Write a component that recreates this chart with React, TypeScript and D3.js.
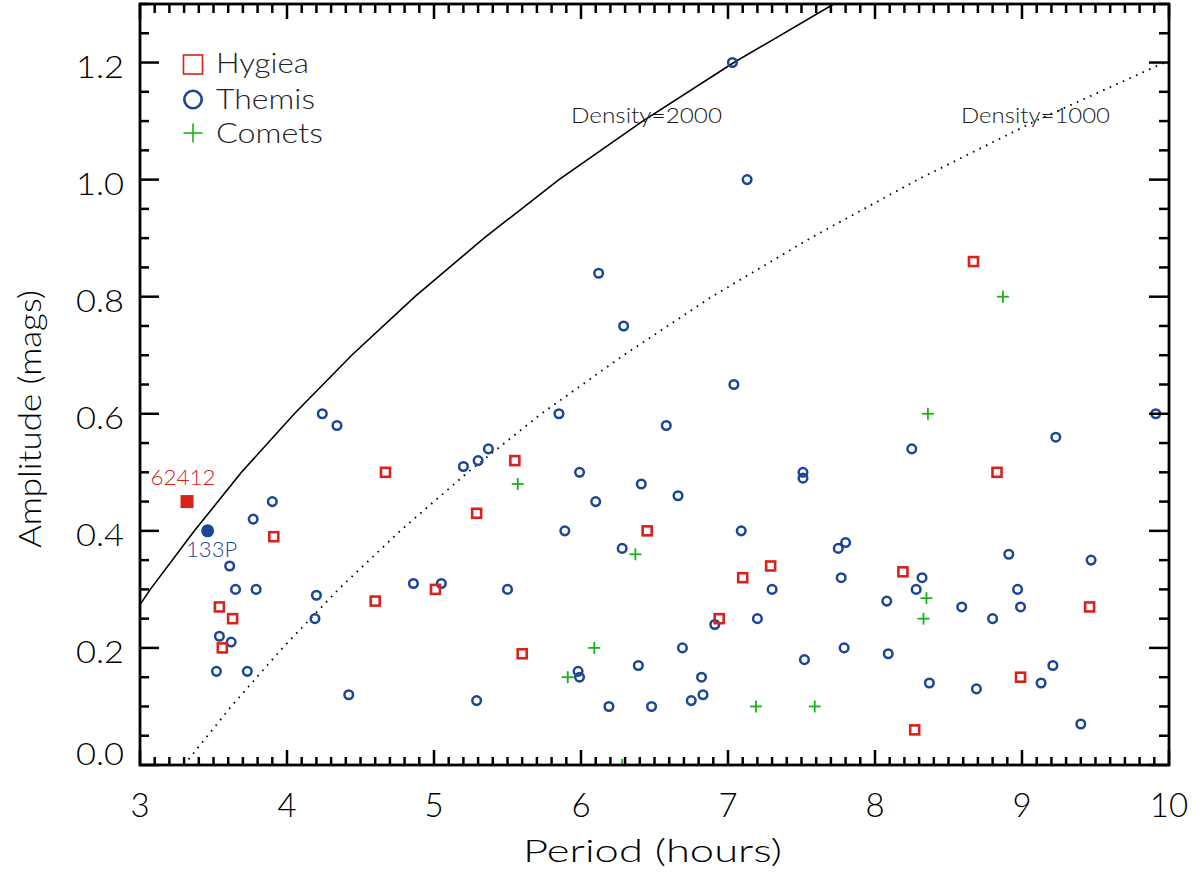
import React from "react";
import * as d3 from "d3";

// ---- Data (Period in hours, Amplitude in mags) ----
const hygiea: [number, number][] = [
  [4.67, 0.5], [5.55, 0.52], [5.29, 0.43], [3.91, 0.39], [3.54, 0.27],
  [3.63, 0.25], [3.56, 0.2], [4.6, 0.28], [5.01, 0.3], [5.6, 0.19],
  [6.45, 0.4], [6.94, 0.25], [7.1, 0.32], [7.29, 0.34], [8.19, 0.33],
  [8.67, 0.86], [8.83, 0.5], [8.27, 0.06], [8.99, 0.15], [9.46, 0.27],
];

const themis: [number, number][] = [
  [4.24, 0.6], [4.34, 0.58], [3.9, 0.45], [3.77, 0.42], [3.61, 0.34],
  [3.65, 0.3], [3.79, 0.3], [4.2, 0.29], [4.19, 0.25], [3.54, 0.22],
  [3.62, 0.21], [3.52, 0.16], [3.73, 0.16], [4.42, 0.12], [4.86, 0.31],
  [5.05, 0.31], [5.5, 0.3], [5.29, 0.11], [5.98, 0.16], [5.99, 0.15],
  [6.19, 0.1], [6.48, 0.1], [6.39, 0.17], [6.69, 0.2], [6.82, 0.15],
  [6.75, 0.11], [6.83, 0.12], [6.91, 0.24], [7.2, 0.25], [7.3, 0.3],
  [7.52, 0.18], [7.77, 0.32], [7.79, 0.2], [8.08, 0.28], [8.09, 0.19],
  [8.28, 0.3], [8.32, 0.32], [8.37, 0.14], [8.59, 0.27], [8.8, 0.25],
  [8.69, 0.13], [8.97, 0.3], [8.99, 0.27], [9.13, 0.14], [9.21, 0.17],
  [9.4, 0.07], [6.29, 0.75], [7.04, 0.65], [5.85, 0.6], [6.58, 0.58],
  [5.37, 0.54], [5.3, 0.52], [5.2, 0.51], [5.99, 0.5], [6.41, 0.48],
  [6.66, 0.46], [6.1, 0.45], [5.89, 0.4], [7.09, 0.4], [6.28, 0.37],
  [7.51, 0.5], [7.51, 0.49], [8.25, 0.54], [9.23, 0.56], [9.91, 0.6],
  [7.8, 0.38], [7.75, 0.37], [8.91, 0.36], [9.47, 0.35], [7.03, 1.2],
  [7.13, 1.0], [6.12, 0.84],
];

const comets: [number, number][] = [
  [5.57, 0.48], [6.37, 0.36], [6.09, 0.2], [5.91, 0.15], [7.19, 0.1],
  [6.28, 0.0], [7.59, 0.1], [8.35, 0.285], [8.33, 0.25], [8.87, 0.8],
  [8.36, 0.6],
];

const special62412: [number, number] = [3.32, 0.45];
const special133P: [number, number] = [3.46, 0.4];

// Spin-barrier curves: amplitude steps and periods
const curveAmp = [0, 0.1, 0.2, 0.3, 0.4, 0.5, 0.6, 0.7, 0.8, 0.9, 1.0, 1.1, 1.2, 1.3];
const density2000P = [2.33, 2.56, 2.8, 3.07, 3.37, 3.69, 4.05, 4.44, 4.87, 5.34, 5.85, 6.42, 7.04, 7.72];
const density1000P = [3.3, 3.62, 3.97, 4.35, 4.77, 5.23, 5.73, 6.29, 6.89, 7.56, 8.29, 9.09, 9.97, 10.93];

const xTicks = [3, 4, 5, 6, 7, 8, 9, 10];
const yTicks = [0, 0.2, 0.4, 0.6, 0.8, 1.0, 1.2];

const RED = "#d8221c";
const BLUE = "#1b4596";
const GREEN = "#16b416";
const FONT = "Lato, 'DejaVu Sans', sans-serif";
const FW = 300;

export default function App() {
  const W = 1203, H = 875;
  const L = 140, R = 1169, T = 4, B = 765;
  const x = d3.scaleLinear().domain([3, 10]).range([L, R]);
  const y = d3.scaleLinear().domain([0, 1.3]).range([B, T]);

  const line = d3.line<[number, number]>().x((d) => x(d[0])).y((d) => y(d[1]));
  const c2000 = line(curveAmp.map((a, i) => [density2000P[i], a] as [number, number])) || "";
  const c1000 = line(curveAmp.map((a, i) => [density1000P[i], a] as [number, number])) || "";

  const xMinor = d3.range(30, 101).map((v) => v / 10).filter((v) => Math.abs(v - Math.round(v)) > 1e-6);
  const yMinor = d3.range(0, 27).map((v) => v * 0.05).filter((v) => Math.abs(v * 5 - Math.round(v * 5)) > 1e-6);

  const tickStroke = { stroke: "#000", strokeWidth: 2.5 };
  const txt = { fontFamily: FONT, fontWeight: FW };

  return (
    <svg width={W} height={H} style={{ position: "absolute", left: 0, top: 0, background: "#fff" }}>
      <defs>
        <clipPath id="plotclip">
          <rect x={L} y={T} width={R - L} height={B - T} />
        </clipPath>
      </defs>
      <rect x={0} y={0} width={W} height={H} fill="#fff" />

      {/* curves */}
      <g clipPath="url(#plotclip)">
        <path d={c2000} fill="none" stroke="#000" strokeWidth={1.6} />
        <path d={c1000} fill="none" stroke="#000" strokeWidth={1.8} strokeDasharray="1.6 5.6" />
      </g>

      {/* curve labels */}
      <text x={571} y={123} {...txt} fontSize={21} fill="#1a1a1a" textLength={151} lengthAdjust="spacingAndGlyphs">Density=2000</text>
      <text x={961} y={123} {...txt} fontSize={21} fill="#1a1a1a" textLength={149} lengthAdjust="spacingAndGlyphs">Density=1000</text>

      {/* data */}
      <g clipPath="url(#plotclip)">
        {comets.map((d, i) => (
          <g key={"c" + i} stroke={GREEN} strokeWidth={1.8}>
            <line x1={x(d[0]) - 6} x2={x(d[0]) + 6} y1={y(d[1])} y2={y(d[1])} />
            <line x1={x(d[0])} x2={x(d[0])} y1={y(d[1]) - 6} y2={y(d[1]) + 6} />
          </g>
        ))}
      </g>
      {themis.map((d, i) => (
        <circle key={"t" + i} cx={x(d[0])} cy={y(d[1])} r={4.3} fill="none" stroke={BLUE} strokeWidth={2.5} />
      ))}
      {hygiea.map((d, i) => (
        <rect key={"h" + i} x={x(d[0]) - 4.5} y={y(d[1]) - 4.5} width={9} height={9} fill="none" stroke={RED} strokeWidth={2.6} />
      ))}

      {/* special objects */}
      <rect x={x(special62412[0]) - 6.5} y={y(special62412[1]) - 6.5} width={13} height={13} fill={RED} />
      <text x={x(special62412[0]) - 4} y={485} {...txt} fontSize={21} fill={RED} textAnchor="middle" textLength={65} lengthAdjust="spacingAndGlyphs">62412</text>
      <circle cx={x(special133P[0])} cy={y(special133P[1])} r={6.5} fill={BLUE} />
      <text x={x(special133P[0]) + 4} y={557} {...txt} fontSize={21} fill={BLUE} textAnchor="middle" textLength={51} lengthAdjust="spacingAndGlyphs">133P</text>

      {/* frame */}
      <rect x={L} y={T} width={R - L} height={B - T} fill="none" stroke="#000" strokeWidth={2.8} />

      {/* x ticks */}
      {xTicks.map((t) => (
        <g key={"xt" + t}>
          <line x1={x(t)} x2={x(t)} y1={B} y2={B - 15} {...tickStroke} />
          <line x1={x(t)} x2={x(t)} y1={T} y2={T + 15} {...tickStroke} />
          <text x={x(t)} y={817} {...txt} fontSize={33} textAnchor="middle" fill="#000">{t}</text>
        </g>
      ))}
      {xMinor.map((t, i) => (
        <g key={"xm" + i}>
          <line x1={x(t)} x2={x(t)} y1={B} y2={B - 8} {...tickStroke} />
          <line x1={x(t)} x2={x(t)} y1={T} y2={T + 9} {...tickStroke} />
        </g>
      ))}

      {/* y ticks */}
      {yTicks.map((t) => (
        <g key={"yt" + t}>
          <line x1={L} x2={L + 19} y1={y(t)} y2={y(t)} {...tickStroke} />
          <line x1={R} x2={R - 20} y1={y(t)} y2={y(t)} {...tickStroke} />
          <text x={124} y={Math.min(y(t) + 15.5, B)} {...txt} fontSize={31} textAnchor="end" fill="#000" textLength={48} lengthAdjust="spacingAndGlyphs">{t.toFixed(1)}</text>
        </g>
      ))}
      {yMinor.map((t, i) => (
        <g key={"ym" + i}>
          <line x1={L} x2={L + 9} y1={y(t)} y2={y(t)} {...tickStroke} />
          <line x1={R} x2={R - 10} y1={y(t)} y2={y(t)} {...tickStroke} />
        </g>
      ))}

      {/* axis titles */}
      <text x={523} y={862} {...txt} fontSize={32} fill="#000" textLength={259} lengthAdjust="spacingAndGlyphs">Period (hours)</text>
      <text transform="translate(41,548) rotate(-90)" x={0} y={0} {...txt} fontSize={32} fill="#000" textLength={258} lengthAdjust="spacingAndGlyphs">Amplitude (mags)</text>

      {/* legend */}
      <rect x={183.5} y={55} width={19} height={19} fill="none" stroke={RED} strokeWidth={1.6} />
      <text x={216} y={73} {...txt} fontSize={27} fill="#222" textLength={93} lengthAdjust="spacingAndGlyphs">Hygiea</text>
      <circle cx={193} cy={99.5} r={8.7} fill="none" stroke={BLUE} strokeWidth={2.6} />
      <text x={216} y={109} {...txt} fontSize={27} fill="#222" textLength={99} lengthAdjust="spacingAndGlyphs">Themis</text>
      <g stroke={GREEN} strokeWidth={1.6}>
        <line x1={183.5} x2={202.5} y1={133} y2={133} />
        <line x1={193} x2={193} y1={123.5} y2={142.5} />
      </g>
      <text x={216} y={143} {...txt} fontSize={27} fill="#222" textLength={107} lengthAdjust="spacingAndGlyphs">Comets</text>
    </svg>
  );
}
